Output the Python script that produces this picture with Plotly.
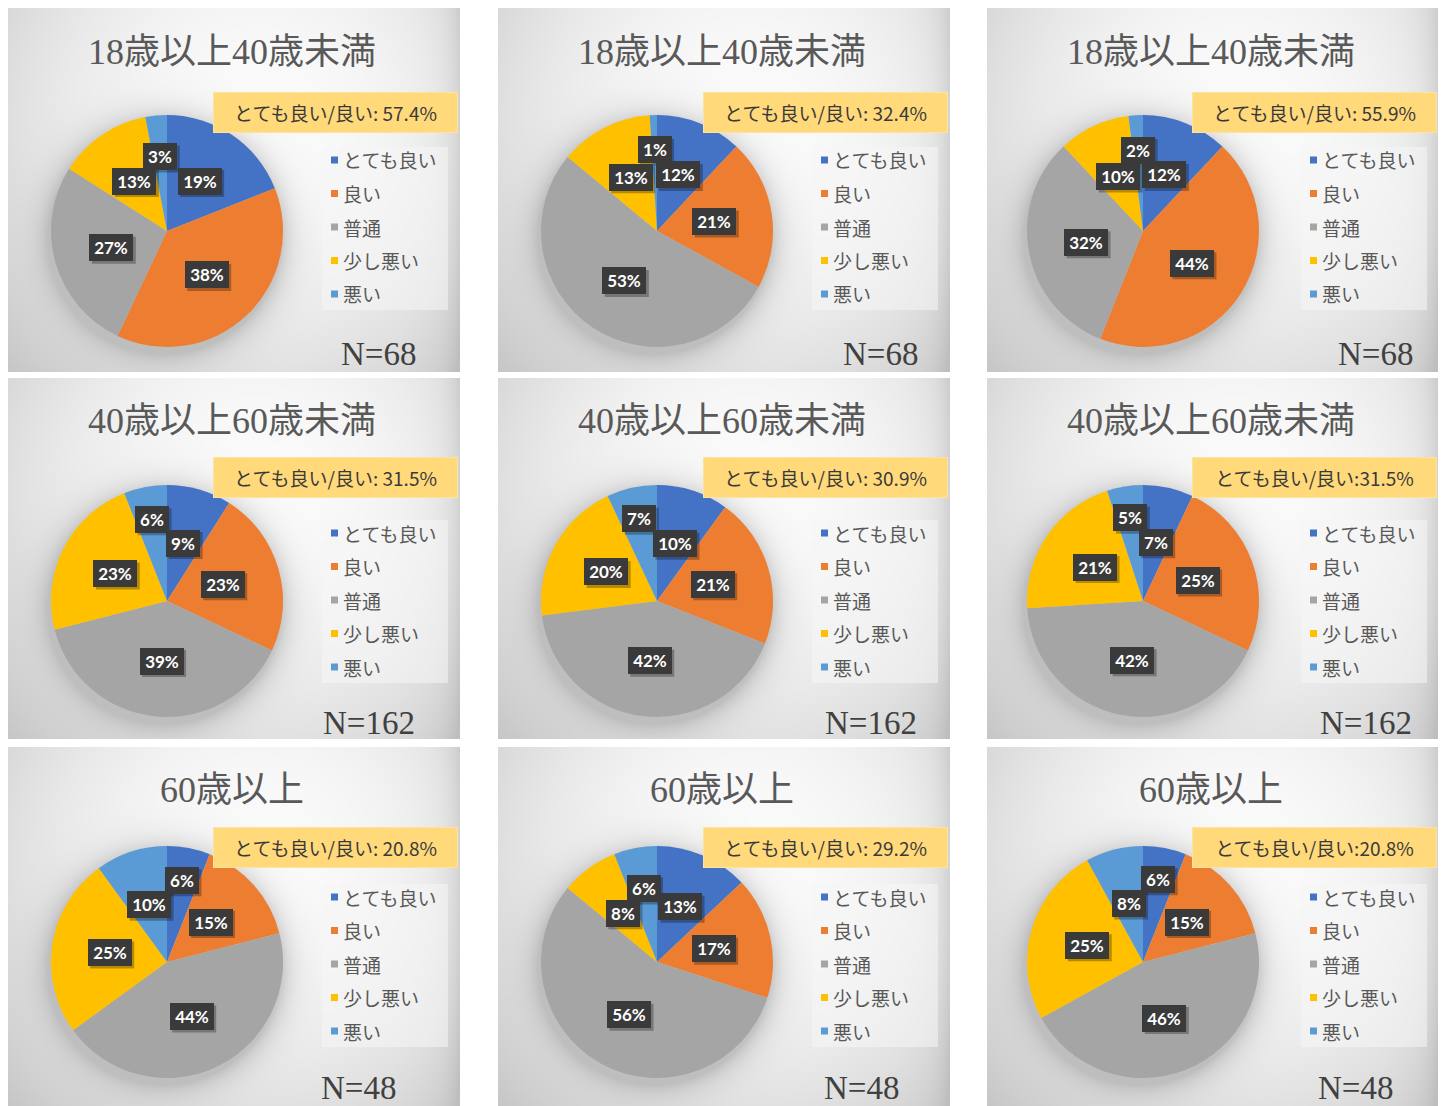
import base64
import struct
import zlib

import numpy as np
import plotly.graph_objects as go

W, H = 1443, 1106

# ---------------------------------------------------------------- data
categories = ["とても良い", "良い", "普通", "少し悪い", "悪い"]
slice_colors = ["#4472C4", "#ED7D31", "#A5A5A5", "#FFC000", "#5B9BD5"]

age_groups = ["18歳以上40歳未満", "40歳以上60歳未満", "60歳以上"]
sample_sizes = [68, 162, 48]

# answer shares (%) by age group (rows), one list per survey column
shares_col1 = [[19, 38, 27, 13, 3], [9, 23, 39, 23, 6], [6, 15, 44, 25, 10]]
shares_col2 = [[12, 21, 53, 13, 1], [10, 21, 42, 20, 7], [13, 17, 56, 8, 6]]
shares_col3 = [[12, 44, 32, 10, 2], [7, 25, 42, 21, 5], [6, 15, 46, 25, 8]]

# combined "とても良い/良い" rate (%) by age group
good_rate_col1 = [57.4, 31.5, 20.8]
good_rate_col2 = [32.4, 30.9, 29.2]
good_rate_col3 = [55.9, 31.5, 20.8]

shares = [shares_col1, shares_col2, shares_col3]
good_rates = [good_rate_col1, good_rate_col2, good_rate_col3]

# ---------------------------------------------------------------- layout (pixels)
panel_left = [8, 498, 987]
panel_width = [452, 452, 451]
panel_top = [8, 378, 747]
panel_height = [364, 361, 359]

pie_cx_rel = [159, 159, 156]
pie_cy_rel = [223, 223, 215]
R = 116

title_y_rel = [44, 43, 43]
box_top_rel = [84, 79, 80]
box_left_rel = 205
box_w, box_h = 245, 41
legend_y_rel = [152, 155, 150]
legend_step = 33.5
n_y_rel = [346, 345, 341]
n_right_rel = [[410, 422, 428], [409, 421, 427], [390, 403, 408]]
colon_gap = [[" ", " ", " "], [" ", " ", " "], [" ", "", ""]]

FONT_JP = "Noto Sans CJK JP"
FONT_SERIF = "Liberation Serif, Noto Sans CJK JP"


def px(x):
    return x / W


def py(y):
    return 1 - y / H


# ---------------------------------------------------------------- background
def png_uri(gray):
    h, w = gray.shape
    g = gray.astype(np.int16)
    prev = np.concatenate([np.zeros((h, 1), np.int16), g[:, :-1]], axis=1)
    filt = ((g - prev) % 256).astype(np.uint8)
    raw = b"".join(b"\x01" + filt[i].tobytes() for i in range(h))

    def chunk(tag, data):
        body = tag + data
        return struct.pack(">I", len(data)) + body + struct.pack(">I", zlib.crc32(body) & 0xFFFFFFFF)

    png = (b"\x89PNG\r\n\x1a\n"
           + chunk(b"IHDR", struct.pack(">IIBBBBB", w, h, 8, 0, 0, 0, 0))
           + chunk(b"IDAT", zlib.compress(raw, 9))
           + chunk(b"IEND", b""))
    return "data:image/png;base64," + base64.b64encode(png).decode()


bg = np.full((H, W), 255.0)
for r in range(3):
    for c in range(3):
        x0, y0 = panel_left[c], panel_top[r]
        w, h = panel_width[c], min(panel_height[r], H - y0)
        yy, xx = np.mgrid[y0:y0 + h, x0:x0 + w].astype(float)
        u = (xx - x0) / w
        v = (yy - y0) / panel_height[r]
        d2 = ((u - 0.55) / 0.62) ** 2 + ((v - 0.33) / 0.8) ** 2
        val = 251 - 36 * d2
        val -= 24 * np.exp(-(x0 + w - xx) / 14)
        pcx, pcy = x0 + pie_cx_rel[c], y0 + pie_cy_rel[r]
        rr = np.hypot(xx - pcx + 1, yy - (pcy + 4))
        val -= 44 * np.exp(-np.clip(rr - R, 0, None) / 13)
        bg[y0:y0 + h, x0:x0 + w] = np.clip(val, 190, 252)

bg = np.round(bg).astype(np.uint8)

# ---------------------------------------------------------------- figure
fig = go.Figure()
shapes = []
annotations = []

LBL_H = 27


def label_box_w(text):
    return 10 * len(text) + 14


for r in range(3):
    for c in range(3):
        x0, y0 = panel_left[c], panel_top[r]
        cx, cy = x0 + pie_cx_rel[c], y0 + pie_cy_rel[r]
        vals = shares[c][r]

        fig.add_trace(go.Pie(
            labels=categories,
            values=vals,
            marker=dict(colors=slice_colors, line=dict(width=0)),
            sort=False,
            direction="clockwise",
            rotation=0,
            textinfo="none",
            hovertemplate="%{label}: %{value}%<extra>" + age_groups[r] + "</extra>",
            showlegend=False,
            domain=dict(x=[px(cx - R), px(cx + R)], y=[py(cy + R), py(cy - R)]),
        ))

        # title
        annotations.append(dict(
            x=px(x0 + panel_width[c] / 2 - 2), y=py(y0 + title_y_rel[r]),
            xref="paper", yref="paper", xanchor="center", yanchor="middle",
            text=age_groups[r], showarrow=False,
            font=dict(family=FONT_SERIF, size=36, color="#595959"),
        ))

        # combined rate box
        rate_text = f"とても良い/良い:{colon_gap[c][r]}{good_rates[c][r]:.1f}%"
        annotations.append(dict(
            x=px(x0 + box_left_rel), y=py(y0 + box_top_rel[r]),
            xref="paper", yref="paper", xanchor="left", yanchor="top",
            text=rate_text, showarrow=False,
            width=box_w - 2, height=box_h - 2, borderpad=0, borderwidth=1,
            bgcolor="#FFD97A", bordercolor="#FBE3A2",
            font=dict(family=FONT_JP, size=19, color="#3A3A3A"),
        ))

        # legend
        ly0 = y0 + legend_y_rel[r]
        shapes.append(dict(
            type="rect", xref="paper", yref="paper", layer="below",
            x0=px(x0 + 314), x1=px(x0 + 440),
            y0=py(ly0 - 13), y1=py(ly0 + 4 * legend_step + 16),
            fillcolor="rgba(246,246,246,0.55)", line=dict(width=0),
        ))
        for k, (cat, col) in enumerate(zip(categories, slice_colors)):
            iy = ly0 + k * legend_step
            shapes.append(dict(
                type="rect", xref="paper", yref="paper", layer="below",
                x0=px(x0 + 323), x1=px(x0 + 330), y0=py(iy + 3.5), y1=py(iy - 3.5),
                fillcolor=col, line=dict(width=0),
            ))
            annotations.append(dict(
                x=px(x0 + 333), y=py(iy), xref="paper", yref="paper",
                xanchor="left", yanchor="middle", text=cat, showarrow=False,
                font=dict(family=FONT_JP, size=19, color="#595959"),
            ))

        # sample size
        annotations.append(dict(
            x=px(x0 + n_right_rel[r][c]), y=py(y0 + n_y_rel[r]),
            xref="paper", yref="paper", xanchor="right", yanchor="middle",
            text=f"N={sample_sizes[r]}", showarrow=False,
            font=dict(family="Liberation Serif", size=33, color="#404040"),
        ))

        # slice value labels: start mid-radius, push smaller slices outward on overlap
        total = float(sum(vals))
        mids = []
        cum = 0.0
        for v in vals:
            mids.append(2 * np.pi * (cum + v / 2) / total)
            cum += v
        placed = []
        for i in sorted(range(len(vals)), key=lambda j: -vals[j]):
            text = f"{vals[i]}%"
            bw = label_box_w(text)
            rad = 0.5 * R
            while True:
                lx = cx + rad * np.sin(mids[i])
                ly = cy - 1.04 * rad * np.cos(mids[i])
                clash = any(abs(lx - qx) < (bw + qw) / 2 - 3 and abs(ly - qy) < LBL_H - 3
                            for qx, qy, qw in placed)
                if not clash or rad > 0.95 * R:
                    break
                rad += 1
            placed.append((lx, ly, bw))
            shapes.append(dict(
                type="rect", xref="paper", yref="paper", layer="above",
                x0=px(lx - bw / 2 + 2.5), x1=px(lx + bw / 2 + 2.5),
                y0=py(ly + LBL_H / 2 + 2.5), y1=py(ly - LBL_H / 2 + 2.5),
                fillcolor="rgba(0,0,0,0.28)", line=dict(width=0),
            ))
            annotations.append(dict(
                x=px(lx), y=py(ly), xref="paper", yref="paper",
                xanchor="center", yanchor="middle", text=f"<b>{text}</b>",
                showarrow=False, width=bw - 8, height=LBL_H - 8, borderpad=4,
                borderwidth=0, bgcolor="#3A3A3A",
                font=dict(family="Lato, Liberation Sans", size=17, color="white"),
            ))

fig.update_layout(
    width=W, height=H,
    margin=dict(l=0, r=0, t=0, b=0),
    paper_bgcolor="white",
    plot_bgcolor="rgba(0,0,0,0)",
    showlegend=False,
    images=[dict(source=png_uri(bg), xref="paper", yref="paper", x=0, y=1,
                 sizex=1, sizey=1, xanchor="left", yanchor="top",
                 sizing="stretch", layer="below")],
    shapes=shapes,
    annotations=annotations,
)

fig.write_html("out.html", include_plotlyjs=True, config={"displayModeBar": False})
